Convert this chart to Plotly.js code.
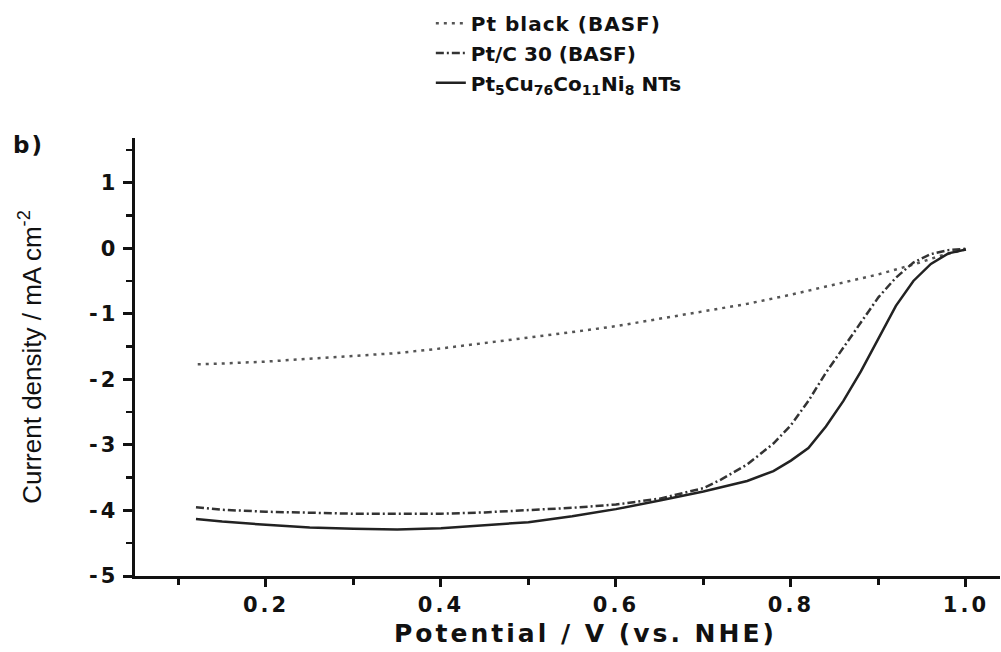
<!DOCTYPE html>
<html>
<head>
<meta charset="utf-8">
<script src="https://cdn.plot.ly/plotly-3.0.1.min.js"></script>
<style>
html,body{margin:0;padding:0;background:#fff}
#chart{width:1001px;height:652px}
.xtick text{letter-spacing:3px}
.ytick text{letter-spacing:3px}
text.xtitle{letter-spacing:3px}
text.legendtext{letter-spacing:1px}
.annotation-text{letter-spacing:2px}
#chart text.xtitle{transform:translateX(18px)}
</style>
</head>
<body>
<div id="chart"></div>
<script>
// Pt black (BASF) - dotted
var ptBlackX = [0.122, 0.15, 0.2, 0.25, 0.3, 0.35, 0.4, 0.45, 0.5, 0.55, 0.6, 0.65, 0.7, 0.75, 0.8, 0.85, 0.9, 0.94, 0.97, 1.0];
var ptBlackY = [-1.77, -1.76, -1.73, -1.69, -1.65, -1.60, -1.53, -1.45, -1.37, -1.28, -1.19, -1.08, -0.97, -0.85, -0.71, -0.56, -0.40, -0.25, -0.12, -0.02];

// Pt/C 30 (BASF) - dash-dot
var ptcX = [0.12, 0.15, 0.2, 0.25, 0.3, 0.35, 0.4, 0.45, 0.5, 0.55, 0.6, 0.65, 0.7, 0.72, 0.75, 0.78, 0.8, 0.82, 0.84, 0.86, 0.88, 0.9, 0.92, 0.94, 0.96, 0.98, 1.0];
var ptcY = [-3.95, -3.99, -4.02, -4.04, -4.05, -4.05, -4.05, -4.03, -4.00, -3.96, -3.91, -3.82, -3.66, -3.53, -3.30, -2.98, -2.70, -2.33, -1.90, -1.52, -1.13, -0.75, -0.45, -0.22, -0.09, -0.03, -0.01];

// Pt5Cu76Co11Ni8 NTs - solid
var ntX = [0.12, 0.15, 0.2, 0.25, 0.3, 0.35, 0.4, 0.45, 0.5, 0.55, 0.6, 0.65, 0.7, 0.75, 0.78, 0.8, 0.82, 0.84, 0.86, 0.88, 0.9, 0.92, 0.94, 0.96, 0.98, 1.0];
var ntY = [-4.13, -4.17, -4.22, -4.26, -4.28, -4.29, -4.27, -4.23, -4.18, -4.09, -3.98, -3.85, -3.71, -3.55, -3.40, -3.24, -3.05, -2.72, -2.33, -1.88, -1.38, -0.88, -0.50, -0.24, -0.08, -0.02];

var xTickVals = [0.2, 0.4, 0.6, 0.8, 1.0];
var xTickText = ["0.2", "0.4", "0.6", "0.8", "1.0"];
var yTickVals = [-5, -4, -3, -2, -1, 0, 1];
var yTickText = ["-5", "-4", "-3", "-2", "-1", "0", "1"];

var legendNames = ["Pt black (BASF)", "Pt/C 30 (BASF)", "Pt<sub>5</sub>Cu<sub>76</sub>Co<sub>11</sub>Ni<sub>8</sub> NTs"];

var WIDE = "DejaVu Sans, Liberation Sans, sans-serif";
var PLAIN = "Liberation Sans, Arial, sans-serif";

var traces = [
  {x: ptBlackX, y: ptBlackY, mode: "lines", name: "<b>" + legendNames[0] + "</b>", legend: "legend",
   line: {color: "#555", width: 2.5, dash: "3px,5px"}},
  {x: ptcX, y: ptcY, mode: "lines", name: "<b>" + legendNames[1] + "</b>", legend: "legend2",
   line: {color: "#333", width: 2.5, dash: "8px,3px,2px,3px"}},
  {x: ntX, y: ntY, mode: "lines", name: "<b>" + legendNames[2] + "</b>", legend: "legend3",
   line: {color: "#222", width: 2.5}}
];

function leg(y) {
  return {x: 0.342, y: y, xanchor: "left", yanchor: "middle", bgcolor: "rgba(0,0,0,0)",
          font: {size: 20, family: WIDE, color: "#111"}};
}

var layout = {
  width: 1001, height: 652,
  margin: {l: 135, r: 1, t: 138, b: 76},
  paper_bgcolor: "#fff", plot_bgcolor: "#fff",
  font: {family: WIDE, color: "#111", size: 20},
  showlegend: true,
  legend: leg(1.262),
  legend2: leg(1.194),
  legend3: leg(1.126),
  xaxis: {
    range: [0.0503, 1.039], showgrid: false, zeroline: false,
    showline: true, linecolor: "#111", linewidth: 3,
    ticks: "outside", ticklen: 8, tickwidth: 3, tickcolor: "#111",
    tickvals: xTickVals, ticktext: xTickText,
    tickfont: {size: 21, family: WIDE, weight: "bold"},
    minor: {ticks: "outside", ticklen: 6, tickwidth: 2.5, tickcolor: "#111", dtick: 0.1, tick0: 0, showgrid: false},
    title: {text: "<b>Potential / V (vs. NHE)</b>", font: {size: 25, family: WIDE}, standoff: 9}
  },
  yaxis: {
    range: [-5, 1.68], showgrid: false, zeroline: false,
    showline: true, linecolor: "#111", linewidth: 3.5,
    ticks: "outside", ticklen: 9, tickwidth: 3, tickcolor: "#111",
    tickvals: yTickVals, ticktext: yTickText,
    tickfont: {size: 21, family: WIDE, weight: "bold"},
    minor: {ticks: "outside", ticklen: 6, tickwidth: 2.5, tickcolor: "#111", dtick: 0.5, tick0: 0, showgrid: false},
    title: {text: "Current density / mA cm<sup>-2</sup>", font: {size: 26, family: PLAIN}, standoff: 41}
  },
  annotations: [
    {text: "<b>b)</b>", xref: "paper", yref: "paper", x: -0.143, y: 0.984, xanchor: "left", yanchor: "middle",
     showarrow: false, font: {size: 23, family: WIDE, color: "#111"}}
  ]
};

Plotly.newPlot("chart", traces, layout, {displayModeBar: false, staticPlot: true});
</script>
</body>
</html>
